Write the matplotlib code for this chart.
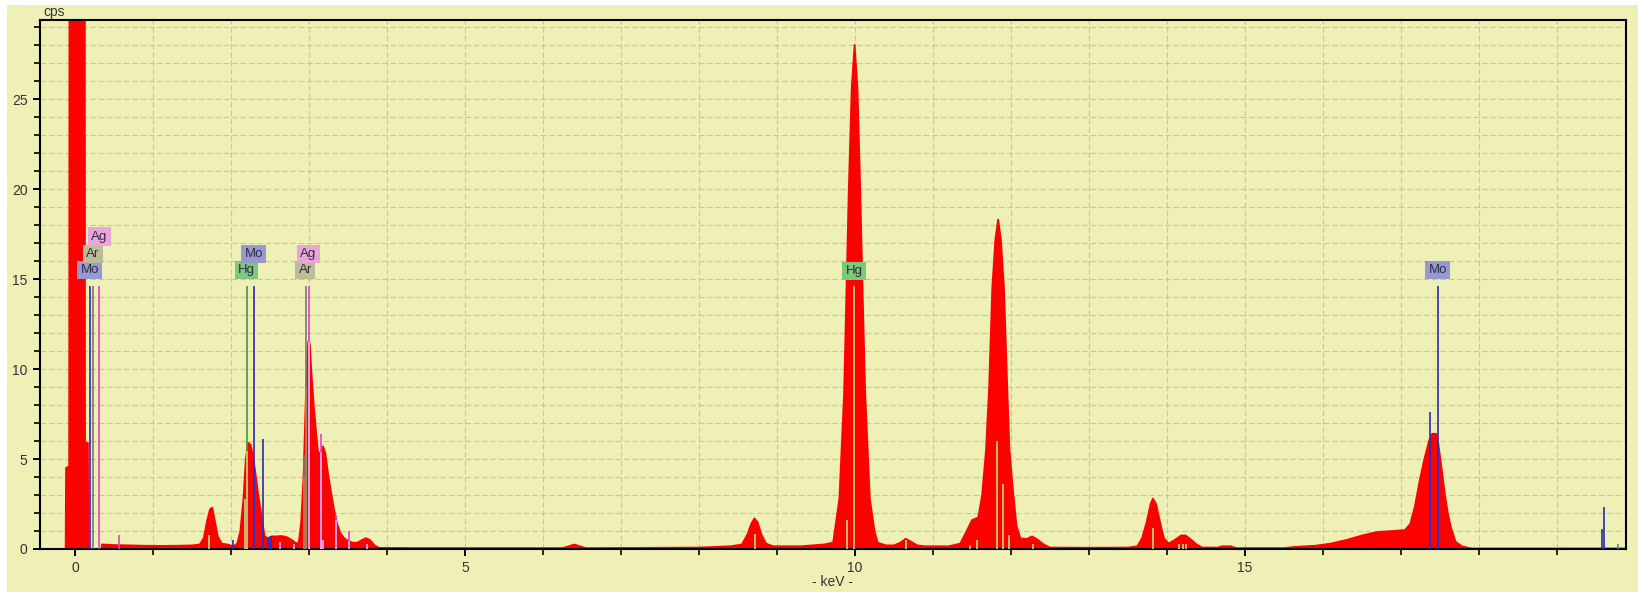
import numpy as np
import matplotlib
matplotlib.use("Agg")
import matplotlib.pyplot as plt
from matplotlib.patches import Rectangle

plt.rcParams['font.family'] = ['Liberation Sans', 'DejaVu Sans']

# spectrum (keV, cps)
energy_kev = [-0.45, -0.12, -0.115, -0.075, -0.07, 0.125, 0.128, 0.165, 0.17, 0.34,
              0.345, 0.5, 0.7, 0.9, 1.1, 1.3, 1.5, 1.6, 1.65, 1.69,
              1.73, 1.76, 1.79, 1.83, 1.88, 1.95, 2.03, 2.08, 2.12, 2.16,
              2.19, 2.22, 2.25, 2.28, 2.31, 2.34, 2.37, 2.40, 2.43, 2.47,
              2.52, 2.58, 2.65, 2.72, 2.78, 2.84, 2.87, 2.90, 2.93, 2.96,
              2.99, 3.01, 3.03, 3.06, 3.09, 3.12, 3.15, 3.18, 3.21, 3.24,
              3.28, 3.32, 3.36, 3.40, 3.45, 3.50, 3.56, 3.62, 3.68, 3.73,
              3.78, 3.84, 3.90, 4.5, 5.5, 6.25, 6.33, 6.4, 6.47, 6.55,
              7.2, 8.0, 8.4, 8.55, 8.62, 8.67, 8.71, 8.75, 8.8, 8.86,
              8.95, 9.3, 9.6, 9.72, 9.80, 9.86, 9.89, 9.92, 9.958, 9.995,
              10.032, 10.067, 10.098, 10.131, 10.19, 10.25, 10.29, 10.4, 10.5, 10.58,
              10.65, 10.72, 10.8, 10.9, 11.2, 11.35,
              11.42, 11.5, 11.58, 11.63, 11.68, 11.72, 11.76, 11.8, 11.835, 11.87,
              11.91, 11.95, 11.98, 12.02, 12.07, 12.12, 12.2, 12.27, 12.33, 12.42,
              12.5, 13.0, 13.5, 13.62, 13.68, 13.74, 13.79, 13.82, 13.86, 13.91,
              13.96, 14.02, 14.1, 14.18, 14.24, 14.3, 14.38, 14.45, 14.65, 14.7,
              14.82, 14.88, 15.5, 15.65, 15.9, 16.1, 16.3, 16.5, 16.7, 16.9,
              17.05, 17.12, 17.18, 17.24, 17.3, 17.36, 17.40, 17.45, 17.48, 17.52,
              17.56, 17.6, 17.64, 17.7, 17.78, 17.9, 19.88]
counts_cps = [0, 0, 4.5, 4.6, 40, 40, 5.9, 5.9, 0, 0,
              0.25, 0.22, 0.2, 0.18, 0.17, 0.18, 0.2, 0.25, 0.6, 1.5,
              2.2, 2.3, 1.6, 0.7, 0.3, 0.25, 0.15, 0.3, 1.0, 2.8,
              5.0, 5.9, 5.8, 5.2, 4.3, 3.3, 2.4, 1.6, 0.7, 0.6,
              0.7, 0.7, 0.72, 0.65, 0.5, 0.3, 0.4, 1.5, 4.0, 8.5,
              11.5, 11.4, 9.8, 8.0, 6.5, 5.2, 5.4, 5.7, 5.3, 4.3,
              3.2, 2.2, 1.4, 0.9, 0.6, 0.45, 0.35, 0.35, 0.5, 0.6,
              0.5, 0.2, 0.06, 0.05, 0.05, 0.05, 0.15, 0.25, 0.15, 0.05,
              0.06, 0.08, 0.15, 0.25, 0.8, 1.4, 1.7, 1.5, 0.8, 0.3,
              0.15, 0.15, 0.25, 0.35, 2.8, 8.6, 14.2, 19.9, 25.6, 28.0,
              25.6, 19.9, 14.2, 8.6, 2.8, 1.0, 0.35, 0.2, 0.2, 0.35,
              0.57, 0.4, 0.2, 0.15, 0.15, 0.3,
              0.9, 1.6, 1.75, 3.0, 5.5, 9.0, 14.5, 17.2, 18.3, 17.2,
              14.5, 9.2, 5.5, 3.5, 1.3, 0.6, 0.55, 0.7, 0.55, 0.25,
              0.08, 0.07, 0.08, 0.15, 0.6, 1.5, 2.5, 2.8, 2.5, 1.5,
              0.6, 0.3, 0.5, 0.75, 0.75, 0.55, 0.25, 0.08, 0.08, 0.15,
              0.15, 0.05, 0.05, 0.12, 0.18, 0.3, 0.5, 0.75, 0.95, 1.0,
              1.05, 1.4, 2.4, 3.8, 5.0, 6.0, 6.4, 6.4, 5.8, 4.5,
              3.1, 2.0, 1.2, 0.4, 0.15, 0.03, 0.03]

# element marker lines (keV, cps)
mo_kev = [0.19, 2.02, 2.29, 2.41, 2.47, 2.51, 17.37, 17.48, 19.58, 19.6]
mo_cps = [14.6, 0.5, 14.6, 6.1, 0.6, 0.7, 7.6, 14.6, 1.1, 2.35]
hg_kev = [1.72, 2.18, 2.205, 8.72, 9.9, 9.99, 10.65, 11.48, 11.56, 11.82, 11.9, 11.97, 12.28, 13.82, 14.15, 14.2, 14.25]
hg_cps = [0.8, 2.8, 14.6, 0.85, 1.6, 14.6, 0.5, 0.25, 0.5, 6.0, 3.6, 0.8, 0.3, 1.15, 0.3, 0.3, 0.3]
ag_kev = [0.31, 0.57, 2.63, 2.81, 2.995, 3.15, 3.18, 3.35, 3.51, 3.74]
ag_cps = [14.6, 0.8, 0.4, 0.3, 14.6, 6.4, 0.5, 1.9, 1.0, 0.3]
ar_kev = [0.235, 2.93, 2.965, 19.78]
ar_cps = [14.6, 5.2, 14.6, 0.3]

# peak labels: element, keV, cps
label_el = ['Mo', 'Ar', 'Ag', 'Hg', 'Mo', 'Ar', 'Ag', 'Hg', 'Mo']
label_kev = [0.19, 0.23, 0.31, 2.2, 2.29, 2.95, 2.99, 9.99, 17.47]
label_cps = [15.5, 16.4, 17.35, 15.5, 16.4, 15.5, 16.4, 15.45, 15.5]

line_col = {'Mo': '#2a2ab4', 'Hg': '#3c9c3c', 'Ag': '#e040d0', 'Ar': '#7a7a62'}
inner_col = {'Mo': '#3030c0', 'Hg': '#d8c47a', 'Ag': '#f4a8ec', 'Ar': '#b88048'}
box_col = {'Mo': '#9898d4', 'Hg': '#7cc87c', 'Ag': '#eca4dc', 'Ar': '#bcbc98'}

bg = '#eff0b6'
fig = plt.figure(figsize=(16.38, 5.92), dpi=100, facecolor=bg)
fig.patches.append(Rectangle((0, 0), 7 / 1638, 1, transform=fig.transFigure, fc='white', ec='none'))
fig.patches.append(Rectangle((0, 1 - 5 / 592), 1, 5 / 592, transform=fig.transFigure, fc='white', ec='none'))
ax = fig.add_axes([40 / 1638, 1 - 549 / 592, 1586 / 1638, 529 / 592])
ax.set_facecolor(bg)

ax.set_xlim(-0.449, 19.885)
ax.set_ylim(0, 29.39)

ax.set_xticks([0, 5, 10, 15])
ax.set_xticks(np.arange(0, 20), minor=True)
ax.set_yticks([0, 5, 10, 15, 20, 25])
ax.set_yticks(np.arange(0, 30), minor=True)
ax.grid(True, which='both', color='#c6c6a0', linestyle=(0, (5, 2.5)), linewidth=0.8)
ax.set_axisbelow(True)
ax.tick_params(which='major', length=5, width=1.4, labelsize=10, labelcolor='#333333', pad=4)
ax.tick_params(which='minor', length=4, width=1.2)
for s in ax.spines.values():
    s.set_linewidth(1.5)
    s.set_color('black')

ax.fill_between(energy_kev, counts_cps, 0, color='#ff0000', linewidth=1.3, edgecolor='#ff0000', zorder=2)

def draw_lines(el, xs, hs):
    for x, h in zip(xs, hs):
        s = np.interp(x, energy_kev, counts_cps)
        ax.vlines(x, 0, h, color=line_col[el], linewidth=1.2, zorder=3)
        if s > 0.3:
            ax.vlines(x, 0, min(h, s), color=inner_col[el], linewidth=1.2, zorder=4)

draw_lines('Mo', mo_kev, mo_cps)
draw_lines('Hg', hg_kev, hg_cps)
draw_lines('Ag', ag_kev, ag_cps)
draw_lines('Ar', ar_kev, ar_cps)

for el, x, y in zip(label_el, label_kev, label_cps):
    ax.text(x, y, el, ha='center', va='center', fontsize=9.5, color='#2e2e40', zorder=6,
            bbox=dict(boxstyle='square,pad=0.25', fc=box_col[el], ec='none'))

fig.text(833 / 1638, 1 - 582 / 592, '- keV -', fontsize=10, color='#333333', ha='center', va='center')
fig.text(43 / 1638, 1 - 12 / 592, 'cps', fontsize=10, color='#333333', ha='left', va='center')

fig.savefig('out.png', dpi=100, facecolor=bg)
